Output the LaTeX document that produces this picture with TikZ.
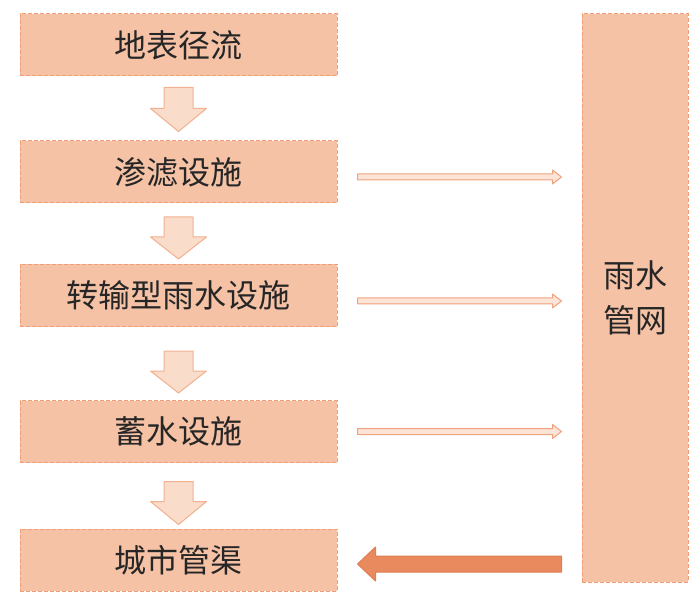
\documentclass[tikz,border=0pt]{standalone}
\usepackage{fontspec}
\setmainfont{Noto Sans CJK SC}
\usetikzlibrary{calc}
\definecolor{boxfill}{HTML}{F5C2A6}
\definecolor{boxline}{HTML}{F09E76}
\definecolor{downfill}{HTML}{FADCCB}
\definecolor{downline}{HTML}{F2B08E}
\definecolor{pipefill}{HTML}{FCE4D7}
\definecolor{pipeline}{HTML}{F0A27E}
\definecolor{outfill}{HTML}{E98A5E}
\definecolor{outline}{HTML}{E27E50}
\definecolor{ink}{HTML}{262626}
\tikzset{
  stagebox/.style={draw=boxline, fill=boxfill, dash pattern=on 2pt off 1pt, line width=0.5pt,
    minimum width=158.5pt, minimum height=31pt, inner sep=0pt, text=ink,
    font=\fontsize{16}{22.5}\selectfont},
  netbox/.style={stagebox, minimum width=53pt, minimum height=284pt, align=center},
  downarrow/.style={draw=downline, fill=downfill, line width=0.5pt, line join=round},
  pipe/.style={draw=pipeline, fill=pipefill, line width=0.5pt, line join=round},
  outflow/.style={draw=outline, fill=outfill, line width=0.5pt, line join=round},
}
\begin{document}
\begin{tikzpicture}[x=0.5pt,y=-0.5pt]
  \useasboundingbox (0,0) rectangle (700,598);
  \node[stagebox] (runoff) at (178.5,45) {地表径流};
  \node[stagebox] (infil) at (178.5,172) {渗滤设施};
  \node[stagebox] (convey) at (178.5,295.5) {转输型雨水设施};
  \node[stagebox] (store) at (178.5,431.5) {蓄水设施};
  \node[stagebox] (drain) at (178.5,560) {城市管渠};
  \node[netbox] (net) at (635,298) {雨水\\管网};
  % flow down the chain
  \draw[downarrow] ($(infil.north)+(0,-9)$) -- ++(28,-23) -- ++(-13.5,0) -- ++(0,-21) -- ++(-29,0) -- ++(0,21) -- ++(-13.5,0) -- cycle;
  \draw[downarrow] ($(convey.north)+(0,-5)$) -- ++(28,-22) -- ++(-13.5,0) -- ++(0,-20) -- ++(-29,0) -- ++(0,20) -- ++(-13.5,0) -- cycle;
  \draw[downarrow] ($(store.north)+(0,-7)$) -- ++(28,-22) -- ++(-13.5,0) -- ++(0,-20) -- ++(-29,0) -- ++(0,20) -- ++(-13.5,0) -- cycle;
  \draw[downarrow] ($(drain.north)+(0,-4)$) -- ++(28,-23) -- ++(-13.5,0) -- ++(0,-20) -- ++(-29,0) -- ++(0,20) -- ++(-13.5,0) -- cycle;
  % overflow into the rain network
  \coordinate (p1s) at ($(infil.east)+(20,5)$);
  \coordinate (p1e) at ($(net.west |- p1s)+(-20,0)$);
  \draw[pipe] ($(p1s)+(0,-3)$) -- ($(p1e)+(-9,-3)$) -- ($(p1e)+(-9,-7)$) -- (p1e) -- ($(p1e)+(-9,7)$) -- ($(p1e)+(-9,3)$) -- ($(p1s)+(0,3)$) -- cycle;
  \coordinate (p2s) at ($(convey.east)+(20,5.5)$);
  \coordinate (p2e) at ($(net.west |- p2s)+(-20,0)$);
  \draw[pipe] ($(p2s)+(0,-3)$) -- ($(p2e)+(-9,-3)$) -- ($(p2e)+(-9,-7)$) -- (p2e) -- ($(p2e)+(-9,7)$) -- ($(p2e)+(-9,3)$) -- ($(p2s)+(0,3)$) -- cycle;
  \coordinate (p3s) at ($(store.east)+(20,0)$);
  \coordinate (p3e) at ($(net.west |- p3s)+(-20,0)$);
  \draw[pipe] ($(p3s)+(0,-3)$) -- ($(p3e)+(-9,-3)$) -- ($(p3e)+(-9,-7)$) -- (p3e) -- ($(p3e)+(-9,7)$) -- ($(p3e)+(-9,3)$) -- ($(p3s)+(0,3)$) -- cycle;
  % network out to the city drains
  \coordinate (o1) at ($(net.west |- drain.east)+(-20,4)$);
  \coordinate (o2) at ($(drain.east)+(20,4)$);
  \draw[outflow] ($(o1)+(0,-8)$) -- ($(o2)+(18,-8)$) -- ($(o2)+(18,-17)$) -- (o2) -- ($(o2)+(18,17)$) -- ($(o2)+(18,8)$) -- ($(o1)+(0,8)$) -- cycle;
\end{tikzpicture}
\end{document}
